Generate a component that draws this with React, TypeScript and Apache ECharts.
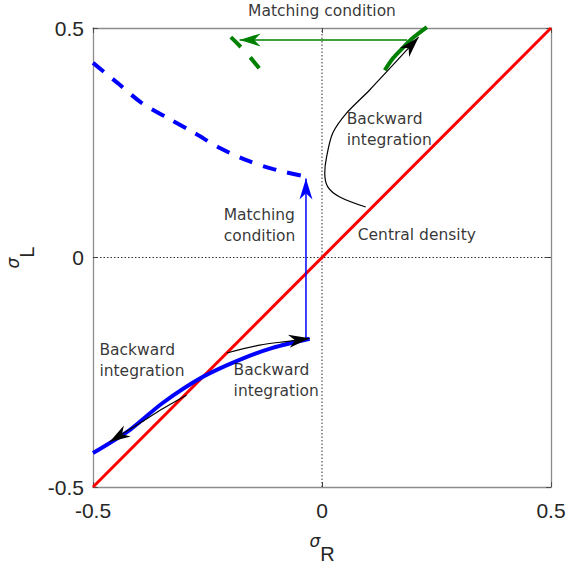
import React, { useEffect, useRef } from "react";
import * as echarts from "echarts";

// ---- data ----
const diagonal = [[-0.5, -0.5], [0.5, 0.5]];
const zeroV = [[0, -0.5], [0, 0.5]];
const zeroH = [[-0.5, 0], [0.5, 0]];

const blueDashed = [
  [-0.5, 0.424], [-0.446, 0.38], [-0.394, 0.337], [-0.337, 0.304], [-0.278, 0.271],
  [-0.224, 0.239], [-0.165, 0.212], [-0.108, 0.193], [-0.044, 0.178], [-0.031, 0.177],
];
const blueSolid = [
  [-0.5, -0.426], [-0.42, -0.376], [-0.348, -0.317], [-0.26, -0.26], [-0.18, -0.223],
  [-0.108, -0.197], [-0.027, -0.177],
];
const blueMatch = [[-0.035, -0.178], [-0.035, 0.172]];

const greenArc = [[0.137, 0.408], [0.155, 0.434], [0.176, 0.456], [0.198, 0.478], [0.229, 0.502]];
const greenDashed = [[-0.199, 0.48], [-0.167, 0.448], [-0.136, 0.411]];
const greenMatch = [[0.186, 0.474], [-0.18, 0.474]];

const blackUpper = [
  [0.0956, 0.11], [0.0388, 0.132], [0.0126, 0.154], [0.006, 0.184], [0.01, 0.219],
  [0.0235, 0.271], [0.054, 0.315], [0.104, 0.365], [0.211, 0.48],
];
const blackLowerRight = [[-0.208, -0.208], [-0.136, -0.191], [-0.07, -0.182], [-0.027, -0.176]];
const blackLowerLeft = [[-0.296, -0.3], [-0.347, -0.329], [-0.398, -0.361], [-0.464, -0.402]];

// arrowheads: [tipX, tipY, fromX, fromY]
const arrowHeads = [
  { v: [0.211, 0.48, 0.104, 0.365], c: "#000000" },
  { v: [-0.027, -0.176, -0.07, -0.182], c: "#000000" },
  { v: [-0.464, -0.402, -0.398, -0.361], c: "#000000" },
  { v: [-0.035, 0.172, -0.035, 0.0], c: "#0000ff" },
  { v: [-0.18, 0.474, 0.186, 0.474], c: "#008000" },
];

const annotText = [
  "Matching condition",
  "Backward\nintegration",
  "Matching\ncondition",
  "Central density",
  "Backward\nintegration",
  "Backward\nintegration",
];
const annotX = [0, 0.054, -0.2147, 0.078, -0.486, -0.193];
const annotY = [0.536, 0.279, 0.07, 0.049, -0.2244, -0.269];
const annotAlign = ["center", "left", "left", "left", "left", "left"];

export default function App() {
  const ref = useRef<HTMLDivElement>(null);
  useEffect(() => {
    if (!ref.current) return;
    const chart = echarts.init(ref.current, undefined, { renderer: "svg" });

    const axisColor = "#8c8c8c";
    const tickColor = "#4d4d4d";
    const labelFont = { fontSize: 21, color: "#262626", fontFamily: "Liberation Sans" };
    const nameRich = {
      s: { fontSize: 17, fontStyle: "italic", fontFamily: "DejaVu Sans", color: "#262626", lineHeight: 32, verticalAlign: "top" },
      r: { fontSize: 20, fontFamily: "Liberation Sans", color: "#262626", lineHeight: 32, verticalAlign: "bottom" },
    };
    const baseAxis = (pos: string, showLabel: boolean) => ({
      type: "value",
      min: -0.5,
      max: 0.5,
      interval: 0.5,
      position: pos,
      axisLine: { show: true, onZero: false, lineStyle: { color: axisColor, width: 1.3 } },
      axisTick: { show: true, inside: true, length: 5, lineStyle: { color: tickColor, width: 1 } },
      axisLabel: { show: showLabel, ...labelFont },
      splitLine: { show: false },
    });

    const lineS = (data: number[][], color: string, width: number, type: any = "solid", z = 2, smooth: any = false) => ({
      type: "line",
      data,
      symbol: "none",
      smooth,
      clip: false,
      z,
      lineStyle: { color, width, type, cap: "butt" },
      silent: true,
    });

    chart.setOption({
      animation: false,
      grid: { left: 93, top: 28, right: 20, bottom: 79, containLabel: false, outerBoundsMode: "none" },
      xAxis: [
        {
          ...baseAxis("bottom", true),
          axisLabel: { show: true, ...labelFont, margin: 13 },
          name: "{s|σ}{r|R}",
          nameLocation: "middle",
          nameGap: 45,
          nameTextStyle: { rich: nameRich },
        },
        { ...baseAxis("top", false), gridIndex: 0 },
      ],
      yAxis: [
        {
          ...baseAxis("left", true),
          axisLabel: { show: true, ...labelFont, margin: 9 },
          name: "{s|σ}{r|L}",
          nameLocation: "middle",
          nameRotate: 90,
          nameGap: 53,
          nameTextStyle: { rich: nameRich },
        },
        { ...baseAxis("right", false), gridIndex: 0 },
      ],
      series: [
        lineS(zeroV, "#333333", 1, [1.5, 2], 1),
        lineS(zeroH, "#333333", 1, [1.5, 2], 1),
        lineS(diagonal, "#ff0000", 3, "solid", 3),
        lineS(blueDashed, "#0000ff", 4, [14, 11], 3, 0.3),
        lineS(blueSolid, "#0000ff", 4, "solid", 3, 0.3),
        lineS(blueMatch, "#0000ff", 1.5, "solid", 3),
        lineS(greenArc, "#008000", 4, "solid", 3, 0.3),
        lineS(greenDashed, "#008000", 4, [14, 14], 3, 0.3),
        lineS(greenMatch, "#008000", 1.5, "solid", 3),
        lineS(blackUpper, "#000000", 1.2, "solid", 4, 0.3),
        lineS(blackLowerRight, "#000000", 1.2, "solid", 4, 0.3),
        lineS(blackLowerLeft, "#000000", 1.2, "solid", 4, 0.3),
        {
          type: "custom",
          z: 5,
          silent: true,
          clip: false,
          encode: { x: [0, 2], y: [1, 3] },
          data: arrowHeads.map((a) => ({ value: a.v, itemStyle: { color: a.c } })),
          renderItem: (params: any, api: any) => {
            const tip = api.coord([api.value(0), api.value(1)]);
            const from = api.coord([api.value(2), api.value(3)]);
            let dx = tip[0] - from[0];
            let dy = tip[1] - from[1];
            const len = Math.sqrt(dx * dx + dy * dy) || 1;
            dx /= len;
            dy /= len;
            const nx = -dy;
            const ny = dx;
            const L = 21;
            const W = 13;
            const back = [tip[0] - L * dx, tip[1] - L * dy];
            const notch = [tip[0] - 0.7 * L * dx, tip[1] - 0.7 * L * dy];
            return {
              type: "polygon",
              shape: {
                points: [
                  tip,
                  [back[0] + (W / 2) * nx, back[1] + (W / 2) * ny],
                  notch,
                  [back[0] - (W / 2) * nx, back[1] - (W / 2) * ny],
                ],
              },
              style: { fill: api.visual("color") },
            };
          },
        },
        {
          type: "scatter",
          z: 6,
          silent: true,
          clip: false,
          symbolSize: 0,
          data: annotText.map((t, i) => ({
            value: [annotX[i], annotY[i]],
            label: {
              show: true,
              position: "inside",
              formatter: t,
              align: annotAlign[i],
              verticalAlign: "middle",
              fontSize: 15.5,
              lineHeight: 21,
              fontFamily: "DejaVu Sans",
              color: "#000000",
              textBorderWidth: 0,
              textBorderColor: "transparent",
            },
          })),
        },
      ],
    });
    return () => chart.dispose();
  }, []);
  return <div ref={ref} style={{ position: "absolute", left: 0, top: 0, width: 571, height: 566 }} />;
}
